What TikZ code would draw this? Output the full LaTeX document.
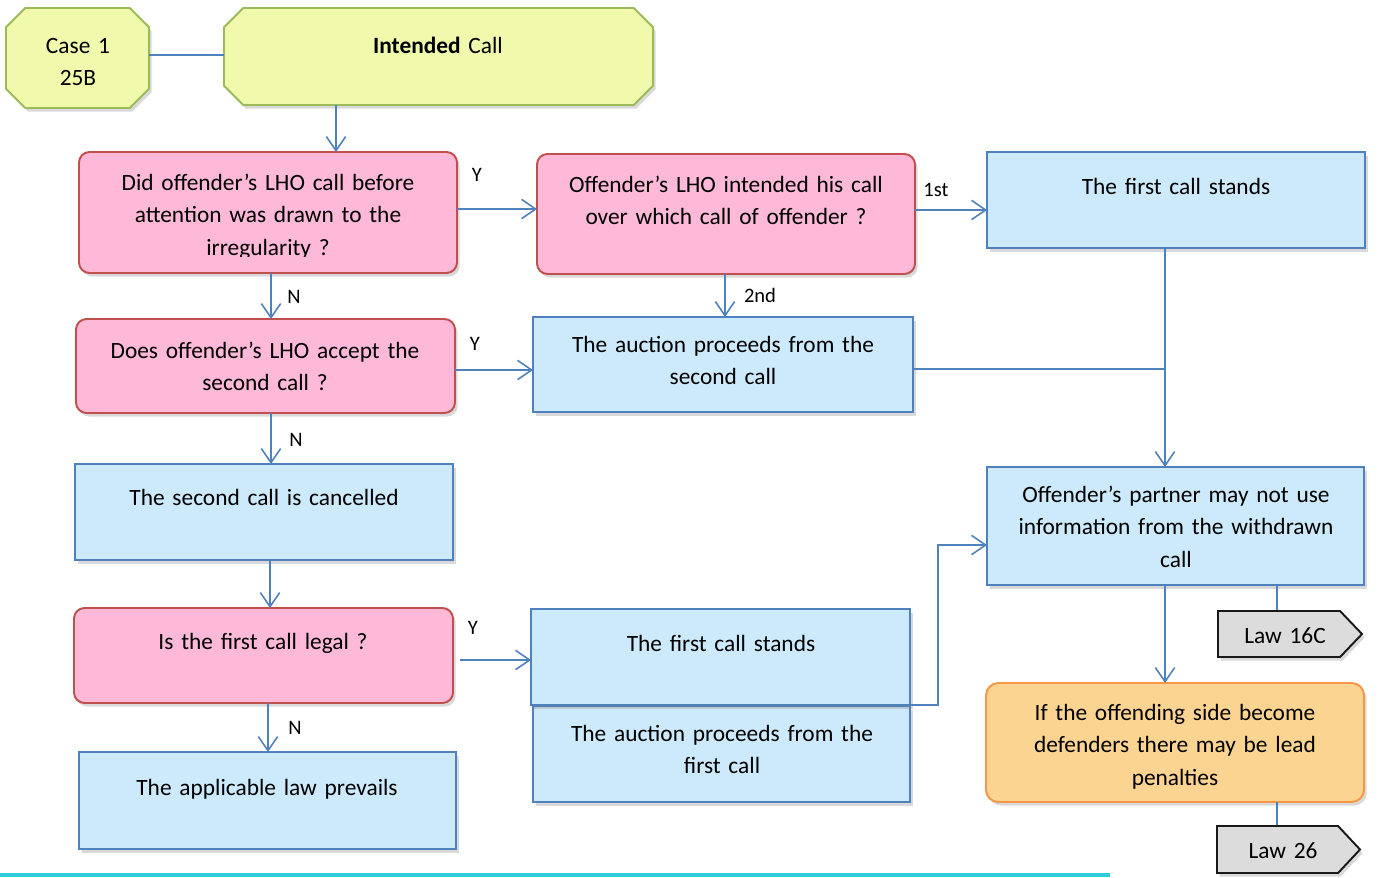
\documentclass[tikz,border=0pt]{standalone}
\usepackage{fontspec}
\setmainfont{Carlito}
\usetikzlibrary{arrows.meta,calc,fit,shadows,positioning}

\definecolor{lineblue}{HTML}{4F81BD}
\definecolor{qpink}{HTML}{FDB9D7}
\definecolor{qred}{HTML}{C0504D}
\definecolor{alight}{HTML}{CCEAFC}
\definecolor{ablue}{HTML}{4F81BD}
\definecolor{ylight}{HTML}{F1F9AC}
\definecolor{ygreen}{HTML}{9BBB59}
\definecolor{olight}{HTML}{FBD491}
\definecolor{oorange}{HTML}{F79646}
\definecolor{tgray}{HTML}{DCDCDC}
\definecolor{rulecyan}{HTML}{2FCCDC}

\tikzset{
    flow/.style={-{Straight Barb[length=8pt,width=11pt]}, draw=lineblue, line width=0.9pt},
    link/.style={draw=lineblue, line width=0.9pt},
    shade/.style={drop shadow={shadow xshift=1.5pt, shadow yshift=-2pt, opacity=0.3}},
    frame/.style={inner sep=0pt, outer sep=0pt},
    boxbase/.style={frame, line width=1.1pt, shade},
    question/.style={boxbase, draw=qred, fill=qpink, rounded corners=6pt},
    answer/.style={boxbase, draw=ablue, fill=alight},
    result/.style={boxbase, draw=oorange, fill=olight, rounded corners=7pt},
    octa/.style={draw=ygreen, fill=ylight, line width=1.1pt, shade},
    lawtag/.style={draw=black!90, fill=tgray, line width=1.1pt, shade},
    txt/.style={font=\fontsize{13.3}{18.7}\selectfont, align=center, text width=9cm, anchor=base, inner sep=0pt},
    branch/.style={font=\fontsize{11.7}{14}\selectfont, inner sep=0pt}
}

\begin{document}
\begin{tikzpicture}[x=0.02cm,y=-0.02cm]
    \useasboundingbox (0,0) rectangle (1378,877);

    % top boxes
    \node[frame, fit={(6,8) (149,108)}] (case) {};
    \draw[octa] ([xshift=11pt]case.north west) -- ([xshift=-11pt]case.north east)
        -- ([yshift=-11pt]case.north east) -- ([yshift=11pt]case.south east)
        -- ([xshift=-11pt]case.south east) -- ([xshift=11pt]case.south west)
        -- ([yshift=11pt]case.south west) -- ([yshift=-11pt]case.north west) -- cycle;
    \node[frame, fit={(224,8) (653,105)}] (intended) {};
    \draw[octa] ([xshift=11pt]intended.north west) -- ([xshift=-11pt]intended.north east)
        -- ([yshift=-11pt]intended.north east) -- ([yshift=11pt]intended.south east)
        -- ([xshift=-11pt]intended.south east) -- ([xshift=11pt]intended.south west)
        -- ([yshift=11pt]intended.south west) -- ([yshift=-11pt]intended.north west) -- cycle;
    \node[txt] (caset) at (78,53) {Case 1\\25B};
    \node[txt] (intendedt) at (438,53) {\textbf{Intended} Call};

    % questions
    \node[question, fit={(79,152) (457,273)}] (q1) {};
    \node[question, fit={(537,154) (915,274)}] (q2) {};
    \node[question, fit={(76,319) (455,413)}] (q3) {};
    \node[question, fit={(74,608) (453,703)}] (q4) {};
    \begin{scope}
        \clip (79,152) rectangle (457,256);
        \node[txt] (q1t) at (268,190) {Did offender’s LHO call before\\attention was drawn to the\\irregularity ?};
    \end{scope}
    \node[txt] (q2t) at (726,192) {Offender’s LHO intended his call\\over which call of offender ?};
    \node[txt] (q3t) at (265,358) {Does offender’s LHO accept the\\second call ?};
    \node[txt] (q4t) at (263,649) {Is the first call legal ?};

    % answers
    \node[answer, fit={(987,152) (1365,248)}] (stand1) {};
    \node[answer, fit={(533,317) (913,412)}] (auction2) {};
    \node[answer, fit={(75,464) (453,560)}] (cancel) {};
    \node[answer, fit={(79,752) (456,849)}] (prevail) {};
    \node[answer, fit={(533,706) (910,802)}] (auction1) {};
    \node[answer, fit={(531,609) (910,705)}] (stand2) {};
    \node[answer, fit={(987,467) (1364,585)}] (partner) {};
    \node[txt] (stand1t) at (1176,194) {The first call stands};
    \node[txt] (auction2t) at (723,352) {The auction proceeds from the\\second call};
    \node[txt] (cancelt) at (264,505) {The second call is cancelled};
    \node[txt] (prevailt) at (267,795) {The applicable law prevails};
    \node[txt] (stand2t) at (721,651) {The first call stands};
    \node[txt] (auction1t) at (722,741) {The auction proceeds from the\\first call};
    \node[txt] (partnert) at (1176,502) {Offender’s partner may not use\\information from the withdrawn\\call};

    % lead penalties
    \node[result, fit={(986,683) (1364,802)}] (lead) {};
    \begin{scope}
        \clip (986,683) rectangle (1364,788);
        \node[txt] (leadt) at (1175,720) {If the offending side become\\defenders there may be lead\\penalties};
    \end{scope}

    % law tags
    \draw[link] (1277,585) -- (1277,611);
    \draw[link] (1277,802) -- (1277,826);
    \node[frame, fit={(1218,611) (1362,657)}] (law1) {};
    \draw[lawtag] (law1.north west) -- ([xshift=-12.5pt]law1.north east) -- (law1.east)
        -- ([xshift=-12.5pt]law1.south east) -- (law1.south west) -- cycle;
    \node[frame, fit={(1217,826) (1360,873)}] (law2) {};
    \draw[lawtag] (law2.north west) -- ([xshift=-12.5pt]law2.north east) -- (law2.east)
        -- ([xshift=-12.5pt]law2.south east) -- (law2.south west) -- cycle;
    \node[txt] (law1t) at (1285,643) {Law 16C};
    \node[txt] (law2t) at (1283,858) {Law 26};

    % connectors
    \draw[link] (case.east |- 0,55) -- (intended.west |- 0,55);
    \draw[flow] (intended.south -| 336,0) -- (q1.north -| 336,0);
    \draw[flow] (q1.east |- 0,209) -- (q2.west |- 0,209);
    \draw[flow] (q2.east |- 0,210) -- (stand1.west |- 0,210);
    \draw[flow] (q2.south -| 725,0) -- (auction2.north -| 725,0);
    \draw[flow] (q1.south -| 271,0) -- (q3.north -| 271,0);
    \draw[flow] (q3.east |- 0,370) -- (auction2.west |- 0,370);
    \draw[flow] (q3.south -| 271,0) -- (cancel.north -| 271,0);
    \draw[flow] (cancel.south -| 270,0) -- (q4.north -| 270,0);
    \draw[flow] ([xshift=4pt]q4.east |- 0,660) -- (stand2.west |- 0,660);
    \draw[flow] (q4.south -| 268,0) -- (prevail.north -| 268,0);
    \draw[flow] (stand2.south east) -- ++(28,0) |- (partner.west |- 0,545);
    \draw[flow] (stand1.south -| 1165,0) -- (partner.north -| 1165,0);
    \coordinate (join) at (1165,369);
    \draw[link] (auction2.east |- join) -- (join);
    \draw[flow] (partner.south -| 1165,0) -- (lead.north -| 1165,0);

    % branch labels
    \node[branch] (y1) at (477,175) {Y};
    \node[branch] (y2) at (475,344) {Y};
    \node[branch] (y3) at (473,628) {Y};
    \node[branch] (n1) at (294,297) {N};
    \node[branch] (n2) at (296,440) {N};
    \node[branch] (n3) at (295,728) {N};
    \node[branch] (first) at (936,190) {1st};
    \node[branch] (second) at (760,295) {2nd};

    % bottom rule
    \draw[rulecyan, line width=1.8pt] (0,875) -- (1110,875);
\end{tikzpicture}
\end{document}
